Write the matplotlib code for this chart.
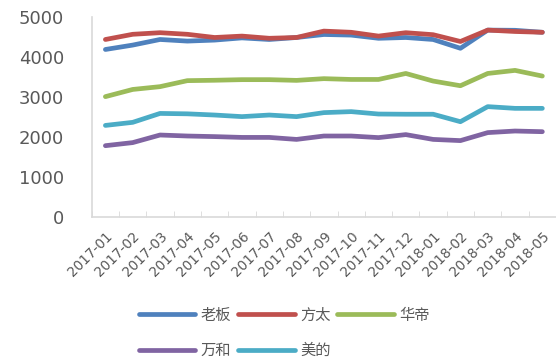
import numpy as np
import matplotlib.pyplot as plt

plt.rcParams['font.family'] = ['DejaVu Sans', 'Noto Sans CJK SC']

months = ['2017-01', '2017-02', '2017-03', '2017-04', '2017-05', '2017-06',
          '2017-07', '2017-08', '2017-09', '2017-10', '2017-11', '2017-12',
          '2018-01', '2018-02', '2018-03', '2018-04', '2018-05']

laoban = [4190, 4300, 4440, 4400, 4425, 4480, 4440, 4490, 4565, 4550,
          4470, 4490, 4440, 4220, 4675, 4670, 4620]
fangtai = [4440, 4570, 4610, 4570, 4490, 4525, 4470, 4490, 4650, 4620,
           4525, 4610, 4560, 4390, 4675, 4640, 4620]
huadi = [3010, 3190, 3260, 3410, 3420, 3435, 3435, 3417, 3460, 3440,
         3440, 3590, 3400, 3283, 3590, 3667, 3525]
wanhe = [1783, 1860, 2050, 2025, 2010, 1990, 1990, 1940, 2025, 2025,
         1985, 2060, 1940, 1910, 2110, 2150, 2133]
meidi = [2290, 2367, 2590, 2580, 2550, 2510, 2550, 2510, 2610, 2635,
         2575, 2570, 2570, 2383, 2760, 2717, 2717]

series = [('老板', laoban, '#4F81BD'),
          ('方太', fangtai, '#C0504D'),
          ('华帝', huadi, '#9BBB59'),
          ('万和', wanhe, '#8064A2'),
          ('美的', meidi, '#4BACC6')]

fig = plt.figure(figsize=(5.56, 3.64), dpi=100)
ax = fig.add_axes([0.165, 0.404, 0.835, 0.549])

x = np.arange(len(months))
lines = {}
for name, vals, col in series:
    ln, = ax.plot(x, vals, color=col, lw=3.4, solid_capstyle='round',
                  solid_joinstyle='round', label=name)
    lines[name] = ln

ax.set_xlim(-0.5, len(months) - 0.5)
ax.set_ylim(0, 5000)
ax.set_yticks([0, 1000, 2000, 3000, 4000, 5000])

ax.set_xticks(x)
ax.set_xticklabels(months, rotation=45, ha='right', rotation_mode='anchor',
                   fontsize=9.8, color='#595959')
ax.set_xticks(np.arange(-0.5, len(months), 1), minor=True)
ax.tick_params(axis='x', which='major', length=0, pad=9)
ax.tick_params(axis='x', which='minor', length=4, direction='in', color='#D9D9D9')
ax.tick_params(axis='y', length=0, pad=20, labelsize=13, labelcolor='#595959')

for s in ['top', 'right']:
    ax.spines[s].set_visible(False)
ax.spines['left'].set_color('#D9D9D9')
ax.spines['bottom'].set_color('#D9D9D9')
ax.spines['left'].set_linewidth(1.2)
ax.spines['bottom'].set_linewidth(1.2)

# legend is filled column by column, so order handles to read row by row
order = ['老板', '万和', '方太', '美的', '华帝']
leg = fig.legend([lines[n] for n in order], order,
                 loc='upper left', bbox_to_anchor=(0.225, 0.195), ncol=3,
                 frameon=False, handlelength=3.7, handletextpad=0.35,
                 columnspacing=0.45, labelspacing=1.2,
                 prop={'family': 'Noto Sans CJK SC', 'size': 11})
for t in leg.get_texts():
    t.set_color('#595959')

fig.savefig('out.png', dpi=100)
